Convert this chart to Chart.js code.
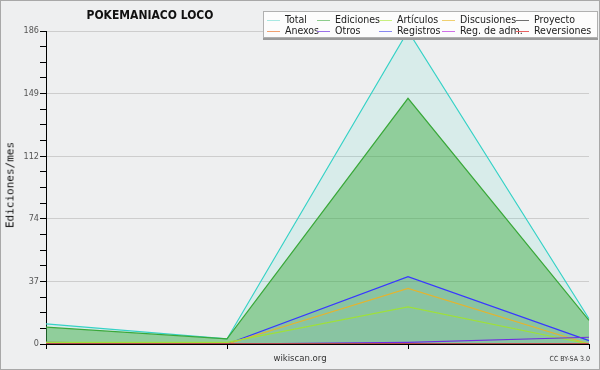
<!DOCTYPE html>
<html>
<head>
<meta charset="utf-8">
<script src="https://cdn.jsdelivr.net/npm/chart.js@4"></script>
<style>
body{margin:0;background:#fff}
#wrap{position:relative;width:600px;height:370px;background:#eeeff0;font-family:"DejaVu Sans Condensed","DejaVu Sans",sans-serif;font-stretch:condensed}
#frame{position:absolute;left:0;top:0;width:600px;height:370px;box-sizing:border-box;border:1px solid #a8a8a8;pointer-events:none}
#title{position:absolute;left:50px;top:8px;width:200px;text-align:center;font-weight:bold;font-size:12px;color:#111}
#ytitle{position:absolute;left:10px;top:185px;transform:translate(-50%,-50%) rotate(-90deg);font-family:"DejaVu Sans Mono",monospace;font-size:11px;color:#111;white-space:nowrap}
#legend{position:absolute;left:263px;top:11px;width:333px;height:25px;background:#fcfcfc;border:1px solid #b0b0b0;box-shadow:0 2px 0 #9a9a9a}
.li{position:absolute;font-size:10.5px;color:#222;white-space:nowrap;line-height:11px}
.li i{display:inline-block;width:13px;height:1px;vertical-align:middle;margin-right:5px}
#site{position:absolute;left:0;width:600px;top:352px;text-align:center;font-size:9.5px;color:#333}
#cc{position:absolute;right:10px;top:355px;font-size:7px;color:#333}
</style>
</head>
<body>
<div id="wrap">
<canvas id="c" width="600" height="370"></canvas>
<div id="title">POKEMANIACO LOCO</div>
<div id="ytitle">Ediciones/mes</div>
<div id="legend"></div>
<div id="site">wikiscan.org</div>
<div id="cc">CC BY-SA 3.0</div>
<div id="frame"></div>
</div>
<script>
// meses (sin etiqueta visible)
const months=["mes 1","mes 2","mes 3","mes 4"]

const total=[12,3,186,15]
const ediciones=[10,3,146,14]
const articulos=[1,1,22,0]
const discusiones=[1,0,33,0]
const proyecto=[0,0,0,0]
const anexos=[0,0,0,0]
const otros=[0,0,1,4]
const registros=[1,0,40,2]
const regAdm=[0,0,0,0]
const reversiones=[0,0,0,0]

const yMax=186
const yTickLabels=["0","37","74","112","149","186"]

const seriesNames=["Total","Ediciones","Artículos","Discusiones","Proyecto","Anexos","Otros","Registros","Reg. de adm.","Reversiones"]
const seriesData=[total,ediciones,articulos,discusiones,proyecto,anexos,otros,registros,regAdm,reversiones]
const lineColors=["#36d2c6","#3aa83a","#9ee03a","#e2b430","#505050","#f08040","#7030e0","#3838ff","#c040e0","#e03030"]
const legendColors=["#a8e8e2","#8ccc8c","#c8f080","#f0d070","#707070","#f0a070","#9a70e8","#8888f0","#d070e8","#e86060"]
const fills=["rgba(54,210,198,0.12)","rgba(58,170,58,0.46)",false,false,false,false,false,"rgba(56,56,255,0.07)",false,false]
const orders=[20,19,5,6,1,2,4,7,3,0]

let datasets=[]
for(let i=0;i<seriesNames.length;i++){
datasets.push({
label:seriesNames[i],
data:seriesData[i],
borderColor:lineColors[i],
backgroundColor:fills[i]||"transparent",
fill:fills[i]?"origin":false,
borderWidth:1.2,
pointRadius:0,
tension:0,
order:orders[i]
})
}

// leyenda
let leg=document.getElementById("legend")
const colX=[3,53,115,178,252]
for(let i=0;i<seriesNames.length;i++){
let d=document.createElement("div")
d.className="li"
d.style.left=colX[i%5]+"px"
d.style.top=(i<5?2:13)+"px"
d.innerHTML='<i style="background:'+legendColors[i]+'"></i>'+seriesNames[i]
leg.appendChild(d)
}

new Chart(document.getElementById("c"),{
type:"line",
data:{labels:months,datasets:datasets},
options:{
responsive:false,
animation:false,
layout:{padding:{top:31,right:11,bottom:0,left:0}},
plugins:{legend:{display:false},title:{display:false},tooltip:{enabled:false}},
scales:{
x:{
offset:false,
grid:{color:"transparent",tickColor:"#000",tickLength:5},
border:{color:"#000",width:1},
ticks:{callback:()=>"",maxRotation:0},
afterFit:s=>{s.height=26}
},
y:{
min:0,max:yMax,
afterBuildTicks:s=>{
let t=[]
for(let i=0;i<=20;i++)t.push({value:yMax*i/20})
s.ticks=t
},
grid:{
color:c=>(c.index%4===0&&c.index>0)?"#cdcdcd":"transparent",
tickColor:"#000",tickLength:6
},
border:{color:"#000",width:1},
ticks:{
autoSkip:false,
padding:1,
color:"#555",
font:{family:"DejaVu Sans Condensed, DejaVu Sans",size:9},
callback:(v,i)=>i%4===0?yTickLabels[i/4]:""
},
afterFit:s=>{s.width=46}
}
}
}
})
</script>
</body>
</html>
